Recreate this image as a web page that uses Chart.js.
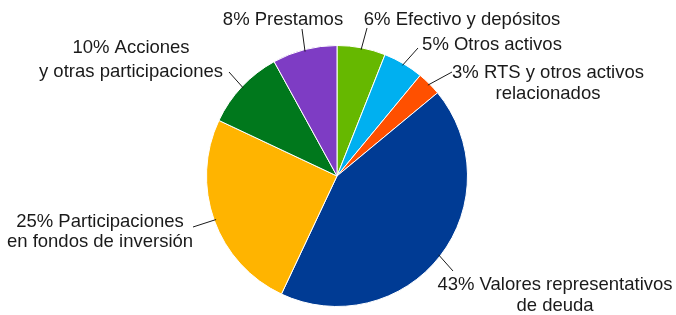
<!DOCTYPE html>
<html>
<head>
<meta charset="utf-8">
<script src="https://cdn.jsdelivr.net/npm/chart.js@4"></script>
<style>
    body { margin: 0; background: #ffffff; }
    canvas { display: block; }
</style>
</head>
<body>
<canvas id="graficoCartera" width="676" height="315"></canvas>
<script>
// datos de la cartera (en %), en el orden del reloj desde las 12
const categorias = ['Efectivo y depósitos', 'Otros activos', 'RTS y otros activos relacionados',
    'Valores representativos de deuda', 'Participaciones en fondos de inversión',
    'Acciones y otras participaciones', 'Prestamos'];
const porcentajes = [6, 5, 3, 43, 25, 10, 8];
// textos de las etiquetas, partidos en lineas
const lineasEtiqueta = [
    ['Efectivo y depósitos'],
    ['Otros activos'],
    ['RTS y otros activos', 'relacionados'],
    ['Valores representativos', 'de deuda'],
    ['Participaciones', 'en fondos de inversión'],
    ['Acciones', 'y otras participaciones'],
    ['Prestamos']
];
const colores = ['#66b800', '#00b0f0', '#ff5000', '#003b94', '#ffb400', '#00781c', '#7e3cc4'];

// posicion de cada etiqueta: centro del texto, alto de linea y final de la linea guia
const posEtiquetas = [
    { x: 462, y: 20, lh: 20, gx: 367, gy: 28 },
    { x: 492, y: 45, lh: 20, gx: 418, gy: 48 },
    { x: 548, y: 73, lh: 21, gx: 452, gy: 72 },
    { x: 555, y: 285, lh: 21, gx: 453, gy: 271 },
    { x: 100, y: 222, lh: 20, gx: 193, gy: 227 },
    { x: 131, y: 48, lh: 24, gx: 229, gy: 72 },
    { x: 283, y: 20, lh: 20, gx: 302, gy: 29 }
];

const etiquetasPlugin = {
    id: 'etiquetas',
    afterDatasetsDraw(chart) {
        const ctx = chart.ctx;
        const meta = chart.getDatasetMeta(0);
        ctx.save();
        ctx.font = '18.5px "Liberation Sans", Arial, sans-serif';
        ctx.fillStyle = '#1a1a1a';
        ctx.strokeStyle = '#1a1a1a';
        ctx.lineWidth = 1;
        ctx.textAlign = 'center';
        ctx.textBaseline = 'middle';
        meta.data.forEach((arco, i) => {
            const p = arco.getProps(['x', 'y', 'startAngle', 'endAngle', 'outerRadius'], true);
            const medio = (p.startAngle + p.endAngle) / 2;
            const r = p.outerRadius - 2;
            const pos = posEtiquetas[i];
            ctx.beginPath();
            ctx.moveTo(p.x + Math.cos(medio) * r, p.y + Math.sin(medio) * r);
            ctx.lineTo(pos.gx, pos.gy);
            ctx.stroke();
            const lineas = lineasEtiqueta[i].slice();
            lineas[0] = porcentajes[i] + '% ' + lineas[0];
            lineas.forEach((linea, j) => {
                ctx.fillText(linea, pos.x, pos.y + j * pos.lh);
            });
        });
        ctx.restore();
    }
};

let graficoCartera = new Chart(document.getElementById('graficoCartera'), {
    type: 'pie',
    data: {
        labels: categorias,
        datasets: [{
            data: porcentajes,
            backgroundColor: colores,
            borderColor: '#ffffff',
            borderWidth: 1
        }]
    },
    options: {
        responsive: false,
        animation: false,
        layout: { padding: { top: 45, bottom: 8, left: 0, right: 2 } },
        plugins: {
            legend: { display: false },
            tooltip: { enabled: false }
        }
    },
    plugins: [etiquetasPlugin]
});
</script>
</body>
</html>
